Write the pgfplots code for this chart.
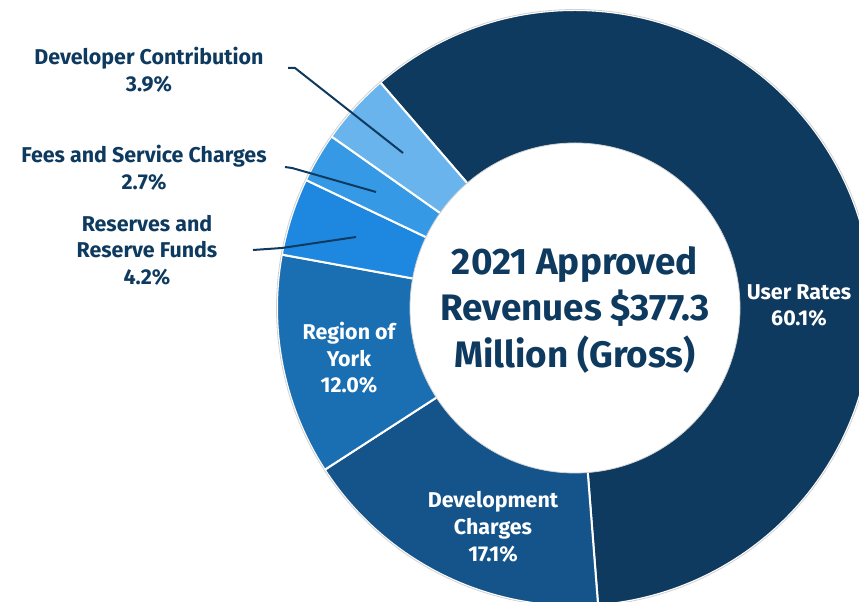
\documentclass[border=0pt]{standalone}
\usepackage{pgfplots}
\usepackage{pgfplotstable}
\pgfplotsset{compat=1.18}
\usepackage{fontspec}
\setmainfont{Fira Sans}

\definecolor{navy}{HTML}{0E3A5F}
\definecolor{cUR}{HTML}{0F3A5F}
\definecolor{cDC}{HTML}{14548A}
\definecolor{cRY}{HTML}{1A6FB3}
\definecolor{cRF}{HTML}{1E88E0}
\definecolor{cFS}{HTML}{3599E5}
\definecolor{cDV}{HTML}{6AB4EE}

% one line of label text, placed at its baseline (pixel coords, y down)
\newcommand{\lbl}[4]{\node[anchor=base, text=#1, inner sep=0pt,
  font=\fontsize{21.5}{24}\selectfont\bfseries] at (axis cs:#2,-#3) {#4};}
\newcommand{\ttl}[3]{\node[anchor=base, text=navy, inner sep=0pt,
  font=\fontsize{37}{40}\selectfont\bfseries] at (axis cs:#1,-#2) {#3};}

\pgfplotstableread[col sep=comma]{
name,pct
User Rates,60.1
Development Charges,17.1
Region of York,12.0
Reserves and Reserve Funds,4.2
Fees and Service Charges,2.7
Developer Contribution,3.9
}\revtable

% slice boundaries, clockwise from the top-left
\pgfmathsetmacro\aA{130.8}
\pgfplotstablegetelem{0}{pct}\of\revtable \pgfmathsetmacro\aB{\aA-3.6*\pgfplotsretval}
\pgfplotstablegetelem{1}{pct}\of\revtable \pgfmathsetmacro\aC{\aB-3.6*\pgfplotsretval}
\pgfplotstablegetelem{2}{pct}\of\revtable \pgfmathsetmacro\aD{\aC-3.6*\pgfplotsretval}
\pgfplotstablegetelem{3}{pct}\of\revtable \pgfmathsetmacro\aE{\aD-3.6*\pgfplotsretval}
\pgfplotstablegetelem{4}{pct}\of\revtable \pgfmathsetmacro\aF{\aE-3.6*\pgfplotsretval}
\pgfplotstablegetelem{5}{pct}\of\revtable \pgfmathsetmacro\aG{\aF-3.6*\pgfplotsretval}

\newcommand{\slice}[3]{\fill[#1, draw=white, line width=2bp] (axis cs:575,-308)
  -- ++(#2:298bp) arc[start angle=#2, end angle=#3, radius=298bp] -- cycle;}

\begin{document}
\begin{tikzpicture}
\begin{axis}[
x=1bp, y=1bp,
xmin=0, xmax=859, ymin=-602, ymax=0,
hide axis,
clip=true]
\coordinate (sw) at (rel axis cs:0,0);
\coordinate (ne) at (rel axis cs:1,1);

\slice{cUR}{\aA}{\aB}
\slice{cDC}{\aB}{\aC}
\slice{cRY}{\aC}{\aD}
\slice{cRF}{\aD}{\aE}
\slice{cFS}{\aE}{\aF}
\slice{cDV}{\aF}{\aG}
\draw[black!18, line width=0.8bp] (axis cs:575,-308) circle[radius=298.5bp];
\fill[white, draw=black!18, line width=0.8bp] (axis cs:575,-308) circle[radius=165bp];

% leader lines
\draw[navy, line width=2bp] (axis cs:288,-68) -- (axis cs:295,-68) -- (axis cs:403,-153);
\draw[navy, line width=2bp] (axis cs:285,-167) -- (axis cs:292,-168) -- (axis cs:376,-192);
\draw[navy, line width=2bp] (axis cs:253,-250) -- (axis cs:282,-248) -- (axis cs:356,-237);

% outside labels
\lbl{navy}{149}{65}{Developer Contribution}
\lbl{navy}{149}{92}{3.9\%}
\lbl{navy}{144}{163}{Fees and Service Charges}
\lbl{navy}{144}{190}{2.7\%}
\lbl{navy}{147}{232}{Reserves and}
\lbl{navy}{147}{258}{Reserve Funds}
\lbl{navy}{147}{285}{4.2\%}

% inside labels
\lbl{white}{349}{340}{Region of}
\lbl{white}{349}{367}{York}
\lbl{white}{349}{393}{12.0\%}
\lbl{white}{493}{508}{Development}
\lbl{white}{493}{535}{Charges}
\lbl{white}{493}{562}{17.1\%}
\lbl{white}{799}{300}{User Rates}
\lbl{white}{799}{326}{60.1\%}

% centre title
\ttl{575}{275}{2021 Approved}
\ttl{575}{321}{Revenues \$377.3}
\ttl{575}{368}{Million (Gross)}
\end{axis}
\pgfresetboundingbox
\path (sw) rectangle (ne);
\end{tikzpicture}
\end{document}
